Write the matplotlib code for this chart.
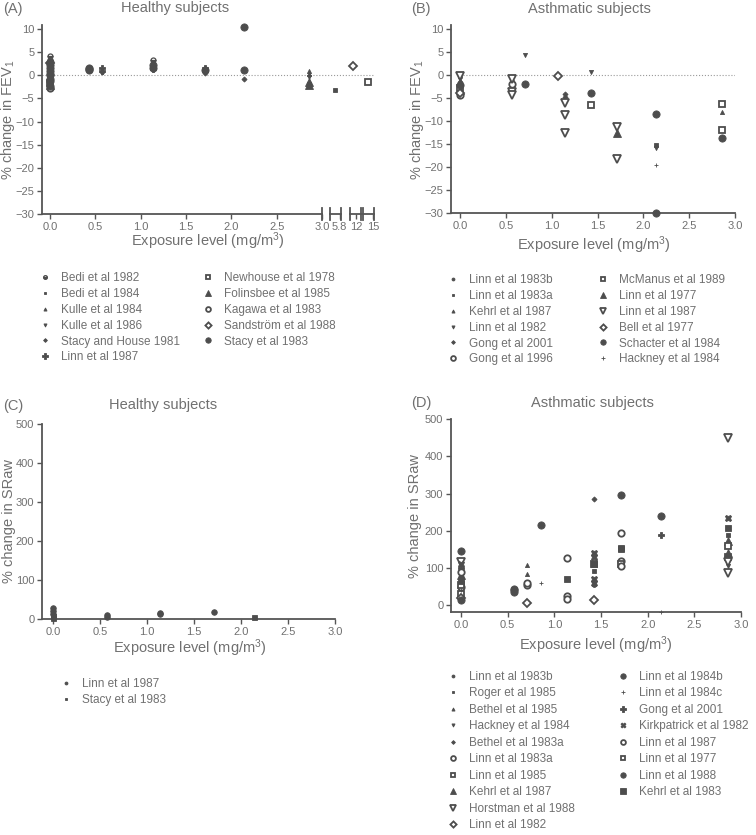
import matplotlib.pyplot as plt
from matplotlib.lines import Line2D

plt.rcParams['font.family'] = ['Liberation Sans', 'DejaVu Sans']
plt.rcParams['mathtext.fontset'] = 'custom'
plt.rcParams['mathtext.rm'] = 'Liberation Sans'
plt.rcParams['mathtext.it'] = 'Liberation Sans'

W, H = 756, 835
INK = '#4d4d4d'
TXT = '#707070'
AXC = '#555555'

# marker styles: (marker, size, fill)
STYLE = {
    'half': ('o', 3.6, 'bottom'),
    'sc':   ('o', 2.8, 'full'),
    'ss':   ('s', 2.8, 'full'),
    'su':   ('^', 3.0, 'full'),
    'sd':   ('v', 3.0, 'full'),
    'sdi':  ('D', 2.6, 'full'),
    'mc':   ('o', 4.0, 'full'),
    'ms':   ('s', 3.6, 'full'),
    'plus': ('P', 5.0, 'full'),
    'osq':  ('s', 4.6, 'none'),
    'tri':  ('^', 5.6, 'full'),
    'out':  ('^', 5.6, 'none'),
    'oci':  ('o', 4.6, 'none'),
    'odi':  ('D', 4.2, 'none'),
    'odt':  ('v', 5.6, 'none'),
    'ci':   ('o', 5.2, 'full'),
    'tiny': ('+', 3.2, 'full'),
    'ox':   ('X', 4.8, 'full'),
    'bsq':  ('s', 5.0, 'full'),
}

# ---------------- (A) FEV1, healthy ----------------
a_labels = ['Bedi et al 1982', 'Bedi et al 1984', 'Kulle et al 1984', 'Kulle et al 1986',
            'Stacy and House 1981', 'Linn et al 1987', 'Newhouse et al 1978',
            'Folinsbee et al 1985', 'Kagawa et al 1983', 'Sandström et al 1988',
            'Stacy et al 1983']
a_marks = ['half', 'ss', 'su', 'sd', 'sdi', 'plus', 'osq', 'tri', 'oci', 'odi', 'ci']
a_x = [[0, 0, 1.14], [0, 2.86, 5.6], [0, 2.86, 2.86], [0, 2.86],
       [0, 0.57, 1.71, 2.14], [0, 0.57, 0.57, 1.14, 1.71, 1.71], [0, 14.5],
       [0, 2.86, 2.86], [0, 0.43], [0, 11.5],
       [0, 0, 0, 0, 0, 0, 0, 0, 0, 0.43, 0.43, 1.14, 1.14, 1.71, 2.14, 2.14]]
a_y = [[4.2, 3.3, 3.4], [-1.0, -1.8, -3.1], [0.6, 1.0, 0.2], [1.3, -0.4],
       [-0.4, 0.7, 0.6, -0.7], [0.2, 1.0, 1.5, 1.3, 1.0, 1.5], [-1.6, -1.4],
       [-2.1, -1.4, -2.0], [-2.7, 1.4], [2.6, 2.0],
       [-2.2, -1.3, -0.8, 0.0, 0.4, 0.9, 1.6, 2.2, 2.9, 1.2, 1.5, 1.7, 2.2, 1.2, 10.5, 1.2]]

# ---------------- (B) FEV1, asthmatic ----------------
b_labels = ['Linn et al 1983b', 'Linn et al 1983a', 'Kehrl et al 1987', 'Linn et al 1982',
            'Gong et al 2001', 'Gong et al 1996', 'McManus et al 1989', 'Linn et al 1977',
            'Linn et al 1987', 'Bell et al 1977', 'Schacter et al 1984', 'Hackney et al 1984']
b_marks = ['sc', 'ss', 'su', 'sd', 'sdi', 'oci', 'osq', 'tri', 'odt', 'odi', 'ci', 'tiny']
b_x = [[0, 0.57], [0, 2.14], [0, 2.86], [0, 0.71, 1.43, 2.14],
       [0, 1.14, 1.14], [0, 0.57], [0, 1.43, 2.86, 2.86], [0, 1.71],
       [0, 0.57, 0.57, 0.57, 1.14, 1.14, 1.14, 1.71, 1.71], [0, 1.07],
       [0, 0.71, 1.43, 2.14, 2.14, 2.86], [0, 2.14]]
b_y = [[-0.4, -1.2], [-1.9, -15.3], [-1.0, -8.0], [-0.3, 4.3, 0.6, -15.9],
       [-1.5, -4.2, -4.7], [-4.3, -2.0], [-2.7, -6.6, -6.2, -12.0], [-3.2, -12.7],
       [-0.2, -0.8, -3.6, -4.4, -6.0, -8.6, -12.6, -11.2, -18.3], [-3.9, -0.3],
       [-2.2, -1.9, -4.0, -8.4, -30.0, -13.7], [-1.6, -19.6]]

# ---------------- (C) SRaw, healthy ----------------
c_labels = ['Linn et al 1987', 'Stacy et al 1983']
c_marks = ['mc', 'ms']
c_legend_marks = ['sc', 'ss']
c_x = [[0, 0, 0, 0.57, 0.57, 1.14, 1.14, 1.71], [0, 0, 2.14]]
c_y = [[27, 20, 14, 10, 6, 16, 12, 17], [8, 3, 5]]

# ---------------- (D) SRaw, asthmatic ----------------
d_labels = ['Linn et al 1983b', 'Roger et al 1985', 'Bethel et al 1985', 'Hackney et al 1984',
            'Bethel et al 1983a', 'Linn et al 1983a', 'Linn et al 1985', 'Kehrl et al 1987',
            'Horstman et al 1988', 'Linn et al 1982', 'Linn et al 1984b', 'Linn et al 1984c',
            'Gong et al 2001', 'Kirkpatrick et al 1982', 'Linn et al 1987', 'Linn et al 1977',
            'Linn et al 1988', 'Kehrl et al 1983']
d_marks = ['sc', 'ss', 'su', 'sd', 'sdi', 'oci', 'osq', 'tri', 'odt', 'odi', 'ci', 'tiny',
           'plus', 'ox', 'oci', 'osq', 'ci', 'bsq']
d_x = [[0, 1.43], [0, 1.43, 2.86], [0, 0.71, 0.71], [0, 2.86], [0, 1.43],
       [0, 1.14, 1.14, 1.71], [0, 1.71, 2.86], [0, 2.86, 2.86], [0, 2.86, 2.86, 2.86],
       [0, 0.71, 1.43], [0, 0.57, 0.57], [0, 0.86, 2.14], [0, 2.14],
       [0, 1.43, 1.43, 1.43, 1.43, 2.86], [0, 0.71, 0.71, 1.14, 1.71, 1.71],
       [0, 1.43, 2.86], [0, 0.57, 0.86, 1.71, 2.14], [0, 1.14, 1.43, 1.71, 1.71, 2.86]]
d_y = [[25, 55], [35, 93, 190], [60, 85, 107], [72, 105], [45, 285],
       [50, 25, 17, 118], [30, 110, 130], [80, 172, 140], [115, 450, 115, 88],
       [20, 5, 13], [145, 45, 40], [40, 60, -18], [100, 190],
       [110, 140, 130, 70, 60, 235], [90, 55, 60, 128, 195, 105],
       [55, 110, 160], [15, 35, 215, 295, 240], [65, 70, 110, 155, 150, 207]]

fig = plt.figure(figsize=(W / 100, H / 100), dpi=100)


def px_axes(l, t, r, b):
    return fig.add_axes([l / W, 1 - b / H, (r - l) / W, (b - t) / H])


def style_axes(ax, left=True):
    for s in ['top', 'right']:
        ax.spines[s].set_visible(False)
    for s in ['left', 'bottom']:
        ax.spines[s].set_linewidth(1.3)
        ax.spines[s].set_color(AXC)
    if not left:
        ax.spines['left'].set_visible(False)
        ax.tick_params(axis='y', left=False, labelleft=False)
    ax.tick_params(direction='out', length=3.5, width=1.0, color=AXC,
                   labelsize=8, labelcolor=TXT, pad=2)


def marker_kw(key, scale=1.0):
    m, s, fill = STYLE[key]
    kw = dict(linestyle='none', marker=m, markersize=s * scale, color=INK, mec=INK)
    if fill == 'none':
        kw.update(mfc='white', mew=1.3)
    elif fill == 'bottom':
        kw.update(fillstyle='bottom', mfc=INK, mfcalt='white', mew=0.9)
    else:
        kw.update(mew=0.6)
    return kw


def draw_series(axes, xs, ys, marks):
    for x, y, mk in zip(xs, ys, marks):
        for ax in axes:
            lo, hi = ax.get_xlim()
            pts = [(a, b) for a, b in zip(x, y) if lo <= a <= hi]
            if pts:
                ax.plot([p[0] for p in pts], [p[1] for p in pts], clip_on=False,
                        zorder=3, **marker_kw(mk))


def legend_col(labels, marks, left, top, spacing=0.33):
    handles = [Line2D([], [], **marker_kw(mk, 0.75)) for mk in marks]
    fig.legend(handles, labels, loc='upper left', bbox_to_anchor=(left / W, 1 - top / H),
               frameon=False, fontsize=8.5, handlelength=1.0, handletextpad=0.9,
               labelspacing=spacing, borderpad=0, borderaxespad=0, labelcolor=TXT)


def ftext(x, y, s, **kw):
    kw.setdefault('color', TXT)
    kw.setdefault('fontsize', 10.5)
    fig.text(x / W, 1 - y / H, s, va='center', **kw)


XT = [0.0, 0.5, 1.0, 1.5, 2.0, 2.5, 3.0]
XTL = ['%.1f' % v for v in XT]
XLAB = r'Exposure level (mg/m$^3$)'
FEV = r'% change in FEV$_1$'
SRAW = '% change in SRaw'

# ---- panel A with broken x-axis ----
axA = px_axes(42, 25, 322, 214)
axA.set_xlim(-0.09, 3.0)
axA.set_ylim(-30, 10.9)
axA.set_xticks(XT, XTL)
axA.set_yticks(range(-30, 11, 5))
style_axes(axA)
axA.axhline(0, xmin=0, xmax=(374 - 42) / 280, color='#9a9a9a', lw=0.8, ls=':',
            clip_on=False, zorder=1)
axA.plot([1, 1], [-0.03, 0.03], transform=axA.transAxes, color=AXC, lw=1.3, clip_on=False)

segs = []
for (l, r), lim, tk in zip([(330, 341), (350, 361), (363, 374)],
                           [(5.4, 5.85), (11.0, 12.7), (14.0, 15.05)],
                           [5.8, 12, 15]):
    sa = px_axes(l, 25, r, 214)
    sa.set_xlim(*lim)
    sa.set_ylim(-30, 10.9)
    sa.patch.set_visible(False)
    style_axes(sa, left=False)
    sa.set_xticks([tk], ['%g' % tk])
    sa.plot([0, 0], [-0.03, 0.03], transform=sa.transAxes, color=AXC, lw=1.3, clip_on=False)
    sa.plot([1, 1], [-0.03, 0.03], transform=sa.transAxes, color=AXC, lw=1.3, clip_on=False)
    segs.append(sa)

draw_series([axA] + segs, a_x, a_y, a_marks)
ftext(8, 120, FEV, ha='center', rotation=90)
ftext(208, 241, XLAB, ha='center')
ftext(3, 9, '(A)', ha='left')
ftext(175, 8, 'Healthy subjects', ha='center')
legend_col(a_labels[:6], a_marks[:6], 39, 272)
legend_col(a_labels[6:], a_marks[6:], 202, 272)

# ---- panel B ----
axB = px_axes(451, 25, 735, 213)
axB.set_xlim(-0.1, 3.0)
axB.set_ylim(-30, 10.9)
axB.set_xticks(XT, XTL)
axB.set_yticks(range(-30, 11, 5))
style_axes(axB)
axB.axhline(0, xmin=0.03, xmax=1.0, color='#9a9a9a', lw=0.8, ls=':', zorder=1)
draw_series([axB], b_x, b_y, b_marks)
ftext(417, 120, FEV, ha='center', rotation=90)
ftext(594, 245, XLAB, ha='center')
ftext(411, 9, '(B)', ha='left')
ftext(589, 9, 'Asthmatic subjects', ha='center')
legend_col(b_labels[:6], b_marks[:6], 447, 274)
legend_col(b_labels[6:], b_marks[6:], 597, 274)

# ---- panel C ----
axC = px_axes(42, 424, 335, 619)
axC.set_xlim(-0.117, 3.0)
axC.set_ylim(0, 500)
axC.set_xticks(XT, XTL)
axC.set_yticks(range(0, 501, 100))
style_axes(axC)
draw_series([axC], c_x, c_y, c_marks)
ftext(9, 521, SRAW, ha='center', rotation=90)
ftext(190, 648, XLAB, ha='center')
ftext(3, 406, '(C)', ha='left')
ftext(163, 405, 'Healthy subjects', ha='center')
legend_col(c_labels, c_legend_marks, 60, 678)

# ---- panel D ----
axD = px_axes(451, 419, 741, 612)
axD.set_xlim(-0.107, 3.0)
axD.set_ylim(-18, 500)
axD.set_xticks(XT, XTL)
axD.set_yticks(range(0, 501, 100))
style_axes(axD)
draw_series([axD], d_x, d_y, d_marks)
ftext(415, 516, SRAW, ha='center', rotation=90)
ftext(596, 645, XLAB, ha='center')
ftext(411, 403, '(D)', ha='left')
ftext(592, 403, 'Asthmatic subjects', ha='center')
legend_col(d_labels[:10], d_marks[:10], 447, 671, 0.38)
legend_col(d_labels[10:], d_marks[10:], 617, 671, 0.38)

fig.savefig('out.png', dpi=100)
